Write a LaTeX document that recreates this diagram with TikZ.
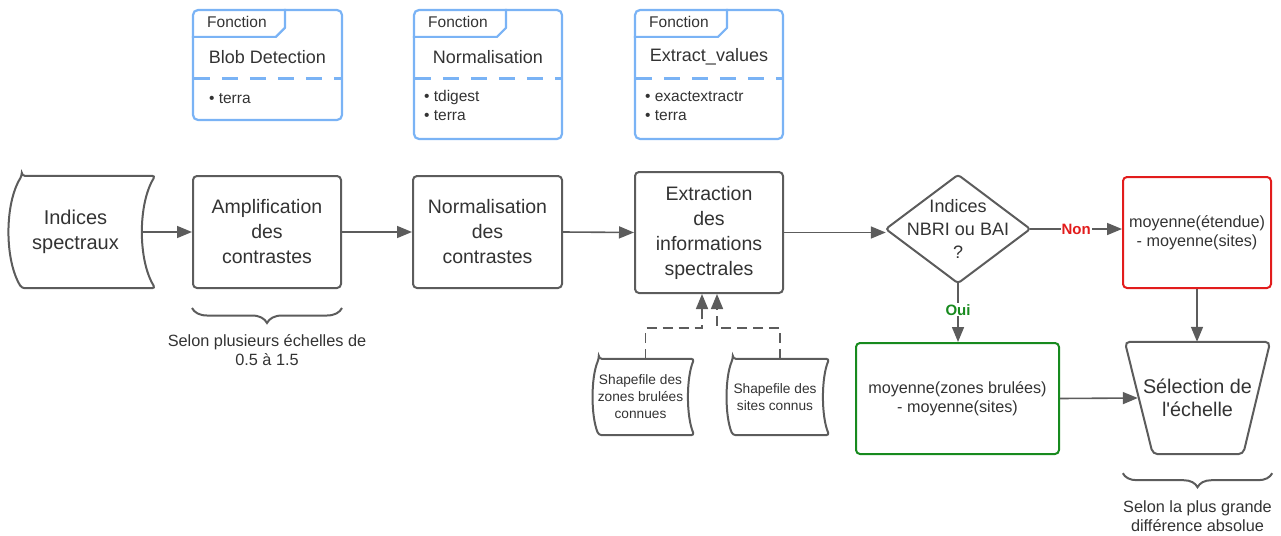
\documentclass[tikz,border=0pt]{standalone}
\usepackage{fontspec}
\setmainfont{Liberation Sans}[Ligatures=TeXOff]
\usetikzlibrary{arrows.meta,calc,decorations.pathreplacing}

\definecolor{boxgray}{HTML}{5C5C5C}
\definecolor{txt}{HTML}{333333}
\definecolor{fblue}{HTML}{7AB3F5}
\definecolor{nonred}{HTML}{E21C1C}
\definecolor{ouigreen}{HTML}{178A1E}

\newcommand\setfs[2]{\fontsize{#1}{#2}\selectfont}

% stored-data outline: convex left side, concave right side
\newcommand\storeoutline[2]{%
  \draw[outline]
    ($(#1.north west)+(#2,0)$) -- ($(#1.north east)+(#2,0)$)
    .. controls ($(#1.north east)!0.25!(#1.south east)+(-0.33*#2,0)$)
       and ($(#1.north east)!0.75!(#1.south east)+(-0.33*#2,0)$) ..
    ($(#1.south east)+(#2,0)$) -- ($(#1.south west)+(#2,0)$)
    .. controls ($(#1.north west)!0.75!(#1.south west)+(-0.33*#2,0)$)
       and ($(#1.north west)!0.25!(#1.south west)+(-0.33*#2,0)$) ..
    cycle;}

% function card: tab, dashed separator
\newcommand\fonctioncard[1]{%
  \draw[fblue, line width=2.2pt, line join=round]
    ($(#1.north west)+(0,28)$) -- ++(84,0) -- ++(9,-9) -- ($(#1.north west)+(93,0)$);
  \draw[fblue, line width=2.2pt, dash pattern=on 16pt off 12pt, dash phase=-2pt]
    ($(#1.north west)+(0,69.5)$) -- ($(#1.north east)+(0,69.5)$);
  \node[ftext, font=\setfs{15.5}{19}] at ($(#1.north west)+(45,13.5)$) {Fonction};}

\begin{document}
\begin{tikzpicture}[x=1pt,y=-1pt,
  outline/.style={draw=boxgray, line width=2pt, rounded corners=3pt},
  proc/.style={draw=boxgray, line width=2pt, rounded corners=4pt, inner sep=0pt,
    align=center, text=txt, font=\setfs{19.5}{25}},
  shapeonly/.style={inner sep=0pt, align=center, text=txt},
  fcard/.style={draw=fblue, line width=2.2pt, rounded corners=5pt, inner sep=0pt},
  ftext/.style={text=txt, inner sep=0pt, align=left},
  conn/.style={draw=boxgray, line width=1.6pt, -{Triangle[length=15pt,width=12pt]}},
  dconn/.style={conn, dash pattern=on 10pt off 6pt},
  lbl/.style={fill=white, inner sep=1pt, font=\bfseries\setfs{15}{18}},
  note/.style={text=txt, align=center, font=\setfs{16.3}{19}},
  brace/.style={draw=boxgray, line width=2pt, decorate,
    decoration={brace, amplitude=15pt}},
]
\useasboundingbox (0,0) rectangle (1281,535);

% ---- function cards ----
\node[fcard, minimum width=149pt, minimum height=110pt] (fblob) at (267.5,65) {};
\fonctioncard{fblob}
\node[ftext, font=\setfs{18}{22}] at ($(fblob.north)+(0,48)$) {Blob Detection};
\node[ftext, font=\setfs{15.5}{19}, anchor=west] at ($(fblob.north west)+(17,90)$) {• terra};

\node[fcard, minimum width=148pt, minimum height=129pt] (fnrm) at (488,74.5) {};
\fonctioncard{fnrm}
\node[ftext, font=\setfs{18}{22}] at ($(fnrm.north)+(0,48)$) {Normalisation};
\node[ftext, font=\setfs{15.5}{19}, anchor=west] at ($(fnrm.north west)+(11,97)$) {• tdigest\\• terra};

\node[fcard, minimum width=148pt, minimum height=129pt] (fext) at (709,74.5) {};
\fonctioncard{fext}
\node[ftext, font=\setfs{18}{22}] at ($(fext.north)+(0,48)$) {Extract\_values};
\node[ftext, font=\setfs{15.5}{19}, anchor=west] at ($(fext.north west)+(11,97)$) {• exactextractr\\• terra};

% ---- main chain ----
\node[shapeonly, minimum width=133pt, minimum height=112pt, font=\setfs{20}{25}] (ind) at (75.5,232) {Indices\\spectraux};
\storeoutline{ind}{13}
\node[proc, minimum width=148pt, minimum height=112pt] (amp) at (267,232) {Amplification\\des\\contrastes};
\node[proc, minimum width=149pt, minimum height=112pt] (nrm) at (487.5,232) {Normalisation\\des\\contrastes};
\node[proc, minimum width=148pt, minimum height=121pt] (ext) at (709,232.5) {Extraction\\des\\informations\\spectrales};

\node[shapeonly, minimum width=144pt, minimum height=108pt, font=\setfs{18}{23}] (dia) at (958,229) {Indices\\NBRI ou BAI\\?};
\draw[outline] (dia.west) -- (dia.north) -- (dia.east) -- (dia.south) -- cycle;

\node[proc, draw=nonred, minimum width=148pt, minimum height=111pt, font=\setfs{16.2}{19}] (red) at (1197,232.5) {moyenne(étendue)\\- moyenne(sites)};
\node[proc, draw=ouigreen, minimum width=203pt, minimum height=111pt, font=\setfs{16.2}{19}] (green) at (957.5,398.5) {moyenne(zones brulées)\\- moyenne(sites)};

\node[shapeonly, minimum width=145pt, minimum height=112pt, font=\setfs{19.8}{23}] (sel) at (1197.5,398) {Sélection de\\l'échelle};
\draw[outline, rounded corners=5pt] (sel.north west) -- (sel.north east)
  -- ($(sel.south east)+(-27,0)$) -- ($(sel.south west)+(28,0)$) -- cycle;

% ---- shapefiles ----
\node[shapeonly, minimum width=95pt, minimum height=76pt, font=\setfs{13.7}{17}] (s1) at (640.5,397) {Shapefile des\\zones brulées\\connues};
\storeoutline{s1}{6}
\node[shapeonly, minimum width=96pt, minimum height=76pt, font=\setfs{13.7}{17}] (s2) at (775,397) {Shapefile des\\sites connus};
\storeoutline{s2}{6}

% ---- connectors ----
\draw[conn] (ind.east) -- (amp.west);
\draw[conn] (amp.east) -- (nrm.west);
\draw[conn] (nrm.east) -- (ext.west);
\draw[conn] (ext.east) -- (ext.east -| dia.west);
\draw[conn] (dia.east) -- node[lbl, text=nonred] {Non} (dia.east -| red.west);
\draw[conn] (dia.south) -- node[lbl, text=ouigreen, pos=0.45] {Oui} (dia.south |- green.north);
\draw[conn] (red.south) -- (red.south |- sel.north);
\draw[conn] (green.east) -- ($(sel.west)+(13,0)$);
\draw[dconn] ($(s1.north)+(5,0)$) -- ++(0,-31) -| ($(ext.south)+(-7,0)$);
\draw[dconn] ($(s2.north)+(5,0)$) -- ++(0,-31) -| ($(ext.south)+(8,0)$);

% ---- braces and notes ----
\draw[brace] ($(amp.south east)+(0,19)$) -- ($(amp.south west)+(0,19)$);
\node[note] (ampnote) at ($(amp.south)+(0,61)$) {Selon plusieurs échelles de\\0.5 à 1.5};
\draw[brace, decoration={amplitude=14pt}] ($(sel.south east)+(2,19)$) -- ($(sel.south west)+(-2,19)$);
\node[note] (selnote) at ($(sel.south)+(0,62)$) {Selon la plus grande\\différence absolue};
\end{tikzpicture}
\end{document}
